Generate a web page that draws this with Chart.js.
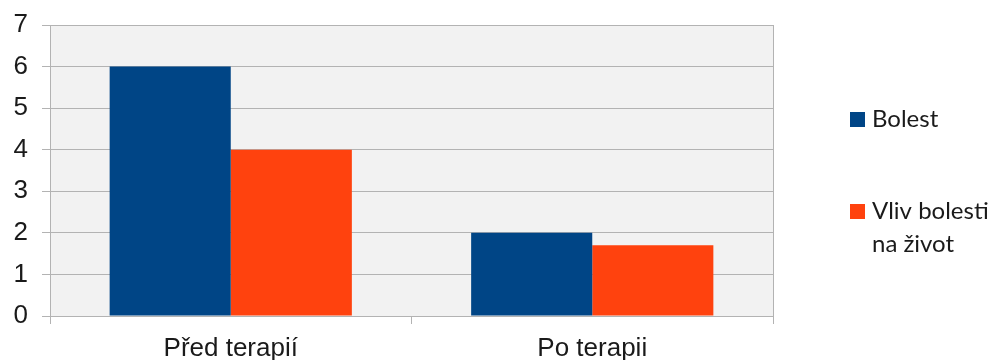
<!DOCTYPE html>
<html>
<head>
<meta charset="utf-8">
<script src="https://cdn.jsdelivr.net/npm/chart.js@4"></script>
<style>
  html, body { margin: 0; padding: 0; background: #ffffff; }
  #wrap { width: 991px; height: 360px; }
</style>
</head>
<body>
<div id="wrap"><canvas id="chart" width="991" height="360"></canvas></div>
<script>
const categories = ['Před terapií', 'Po terapii'];
const seriesNames = ['Bolest', ['Vliv bolesti', 'na život']];
const bolest = [6, 2];
const vlivBolesti = [4, 1.7];
const yTicks = [0, 1, 2, 3, 4, 5, 6, 7];

const colors = ['#004586', '#ff420e'];
const gridColor = '#b3b3b3';

// Grey plot area with a right-hand border
const plotBackground = {
  id: 'plotBackground',
  beforeDraw(chart) {
    const { ctx, chartArea: a } = chart;
    ctx.save();
    ctx.fillStyle = '#f2f2f2';
    ctx.fillRect(a.left, a.top, a.right - a.left, a.bottom - a.top);
    ctx.restore();
  },
  afterDatasetsDraw(chart) {
    const { ctx, chartArea: a } = chart;
    ctx.save();
    ctx.strokeStyle = gridColor;
    ctx.lineWidth = 1;
    ctx.beginPath();
    ctx.moveTo(Math.round(a.right) + 0.5, a.top);
    ctx.lineTo(Math.round(a.right) + 0.5, a.bottom + 8);
    ctx.stroke();
    ctx.restore();
  }
};

// Legend on the right with multi-line labels
const sideLegend = {
  id: 'sideLegend',
  afterDraw(chart, args, opts) {
    const { ctx } = chart;
    ctx.save();
    ctx.font = opts.font;
    ctx.textBaseline = 'alphabetic';
    chart.data.datasets.forEach((ds, i) => {
      const base = opts.baselines[i];
      ctx.fillStyle = ds.backgroundColor;
      ctx.fillRect(opts.x, base - 15, 15, 15);
      ctx.fillStyle = '#1a1a1a';
      const lines = Array.isArray(ds.label) ? ds.label : [ds.label];
      lines.forEach((t, j) => ctx.fillText(t, opts.x + 22, base + j * opts.lineHeight));
    });
    ctx.restore();
  }
};

new Chart(document.getElementById('chart'), {
  type: 'bar',
  data: {
    labels: categories,
    datasets: [
      { label: seriesNames[0], data: bolest, backgroundColor: colors[0] },
      { label: seriesNames[1], data: vlivBolesti, backgroundColor: colors[1] }
    ]
  },
  options: {
    responsive: false,
    animation: false,
    devicePixelRatio: 1,
    layout: { padding: { top: 25, right: 218, left: 0, bottom: 0 } },
    datasets: {
      bar: { categoryPercentage: 0.67, barPercentage: 1.0, borderWidth: 0 }
    },
    plugins: {
      legend: { display: false },
      tooltip: { enabled: false },
      sideLegend: {
        x: 850,
        baselines: [127, 219],
        lineHeight: 33,
        font: '24px Lato'
      }
    },
    scales: {
      x: {
        offset: true,
        grid: {
          display: true,
          offset: true,
          drawOnChartArea: false,
          drawTicks: true,
          tickLength: 8,
          color: gridColor
        },
        border: { display: true, color: gridColor },
        ticks: {
          color: '#1a1a1a',
          padding: 9,
          font: { family: 'Liberation Sans', size: 26 }
        },
        afterFit(s) { s.height = 44; s.paddingLeft = 0; s.paddingRight = 0; }
      },
      y: {
        min: 0,
        max: 7,
        afterBuildTicks(s) { s.ticks = yTicks.map(v => ({ value: v })); },
        grid: {
          color: gridColor,
          drawTicks: true,
          tickLength: 8
        },
        border: { display: true, color: gridColor },
        ticks: {
          color: '#1a1a1a',
          padding: 14,
          font: { family: 'Liberation Sans', size: 26 }
        },
        afterFit(s) { s.width = 50; s.paddingTop = 0; s.paddingBottom = 0; }
      }
    }
  },
  plugins: [plotBackground, sideLegend]
});
</script>
</body>
</html>
